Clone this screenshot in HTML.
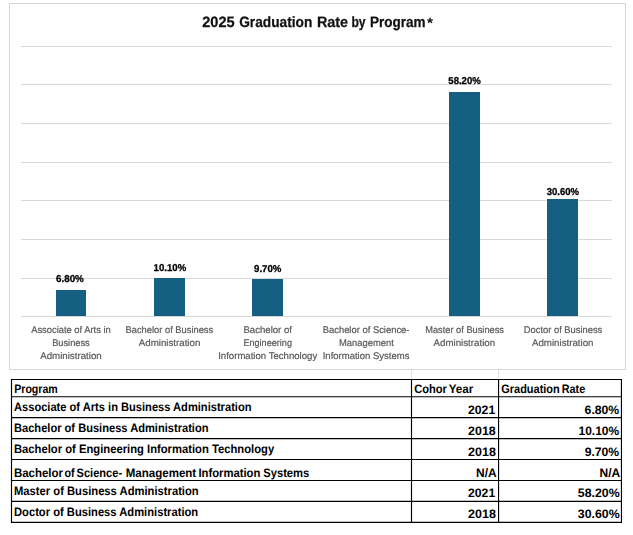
<!DOCTYPE html>
<html><head><meta charset="utf-8"><title>2025 Graduation Rate by Program</title>
<style>html,body{margin:0;padding:0;background:#fff;}body{width:633px;height:535px;overflow:hidden;font-family:"Liberation Sans",sans-serif;}svg{display:block;}text{font-family:"Liberation Sans",sans-serif;text-rendering:geometricPrecision;}</style>
</head><body>
<svg width="633" height="535" viewBox="0 0 633 535">
<rect x="0" y="0" width="633" height="535" fill="#ffffff"/>
<line x1="411.5" y1="370" x2="411.5" y2="379" stroke="#e1e1e1" stroke-width="1"/>
<line x1="498.5" y1="370" x2="498.5" y2="379" stroke="#e1e1e1" stroke-width="1"/>
<rect x="9.5" y="3.5" width="616" height="366" fill="#ffffff" stroke="#d6d6d6" stroke-width="1"/>
<rect x="21" y="46" width="591" height="1" fill="#d9d9d9"/>
<rect x="21" y="84" width="591" height="1" fill="#d9d9d9"/>
<rect x="21" y="123" width="591" height="1" fill="#d9d9d9"/>
<rect x="21" y="162" width="591" height="1" fill="#d9d9d9"/>
<rect x="21" y="200" width="591" height="1" fill="#d9d9d9"/>
<rect x="21" y="239" width="591" height="1" fill="#d9d9d9"/>
<rect x="21" y="278" width="591" height="1" fill="#d9d9d9"/>
<rect x="21" y="316" width="591" height="1" fill="#d9d9d9"/>
<rect x="56" y="290" width="30" height="26" fill="#156082"/>
<rect x="154" y="278" width="31" height="38" fill="#156082"/>
<rect x="252" y="279" width="31" height="37" fill="#156082"/>
<rect x="449" y="92" width="31" height="224" fill="#156082"/>
<rect x="547" y="199" width="31" height="117" fill="#156082"/>
<g style="will-change:transform">
<text x="202.2" y="26.9" font-size="15" font-weight="bold" fill="#111" text-anchor="start" textLength="32.4" lengthAdjust="spacingAndGlyphs" stroke="#111" stroke-width="0.25">2025</text>
<text x="239.2" y="26.9" font-size="15" font-weight="bold" fill="#111" text-anchor="start" textLength="73.1" lengthAdjust="spacingAndGlyphs" stroke="#111" stroke-width="0.25">Graduation</text>
<text x="316.9" y="26.9" font-size="15" font-weight="bold" fill="#111" text-anchor="start" textLength="31.2" lengthAdjust="spacingAndGlyphs" stroke="#111" stroke-width="0.25">Rate</text>
<text x="351.4" y="26.9" font-size="15" font-weight="bold" fill="#111" text-anchor="start" textLength="14.2" lengthAdjust="spacingAndGlyphs" stroke="#111" stroke-width="0.25">by</text>
<text x="369.9" y="26.9" font-size="15" font-weight="bold" fill="#111" text-anchor="start" textLength="55.6" lengthAdjust="spacingAndGlyphs" stroke="#111" stroke-width="0.25">Program</text>
<text x="427.1" y="27.5" font-size="15" font-weight="bold" fill="#111" text-anchor="start" textLength="6.0" lengthAdjust="spacingAndGlyphs">*</text>
<text x="56.0" y="282" font-size="10.0" font-weight="bold" fill="#000" text-anchor="start" textLength="27.8" lengthAdjust="spacingAndGlyphs" stroke="#000" stroke-width="0.3">6.80%</text>
<text x="153.6" y="271" font-size="10.0" font-weight="bold" fill="#000" text-anchor="start" textLength="32.6" lengthAdjust="spacingAndGlyphs" stroke="#000" stroke-width="0.3">10.10%</text>
<text x="254.1" y="272" font-size="10.0" font-weight="bold" fill="#000" text-anchor="start" textLength="27.3" lengthAdjust="spacingAndGlyphs" stroke="#000" stroke-width="0.3">9.70%</text>
<text x="448.3" y="84" font-size="10.0" font-weight="bold" fill="#000" text-anchor="start" textLength="32.5" lengthAdjust="spacingAndGlyphs" stroke="#000" stroke-width="0.3">58.20%</text>
<text x="546.7" y="195" font-size="10.0" font-weight="bold" fill="#000" text-anchor="start" textLength="32.4" lengthAdjust="spacingAndGlyphs" stroke="#000" stroke-width="0.3">30.60%</text>
<text x="31.2" y="333.2" font-size="9.7" font-weight="normal" fill="#595959" text-anchor="start" textLength="79.5" lengthAdjust="spacingAndGlyphs" stroke="#595959" stroke-width="0.2">Associate of Arts in</text>
<text x="52.2" y="345.9" font-size="9.7" font-weight="normal" fill="#595959" text-anchor="start" textLength="37.5" lengthAdjust="spacingAndGlyphs" stroke="#595959" stroke-width="0.2">Business</text>
<text x="40.2" y="358.7" font-size="9.7" font-weight="normal" fill="#595959" text-anchor="start" textLength="61.5" lengthAdjust="spacingAndGlyphs" stroke="#595959" stroke-width="0.2">Administration</text>
<text x="125.5" y="333.2" font-size="9.7" font-weight="normal" fill="#595959" text-anchor="start" textLength="87.7" lengthAdjust="spacingAndGlyphs" stroke="#595959" stroke-width="0.2">Bachelor of Business</text>
<text x="138.8" y="345.9" font-size="9.7" font-weight="normal" fill="#595959" text-anchor="start" textLength="61.5" lengthAdjust="spacingAndGlyphs" stroke="#595959" stroke-width="0.2">Administration</text>
<text x="243.4" y="333.2" font-size="9.7" font-weight="normal" fill="#595959" text-anchor="start" textLength="48.6" lengthAdjust="spacingAndGlyphs" stroke="#595959" stroke-width="0.2">Bachelor of</text>
<text x="243.4" y="345.9" font-size="9.7" font-weight="normal" fill="#595959" text-anchor="start" textLength="48.6" lengthAdjust="spacingAndGlyphs" stroke="#595959" stroke-width="0.2">Engineering</text>
<text x="218.2" y="358.7" font-size="9.7" font-weight="normal" fill="#595959" text-anchor="start" textLength="99.0" lengthAdjust="spacingAndGlyphs" stroke="#595959" stroke-width="0.2">Information Technology</text>
<text x="322.7" y="333.2" font-size="9.7" font-weight="normal" fill="#595959" text-anchor="start" textLength="86.8" lengthAdjust="spacingAndGlyphs" stroke="#595959" stroke-width="0.2">Bachelor of Science-</text>
<text x="339.0" y="345.9" font-size="9.7" font-weight="normal" fill="#595959" text-anchor="start" textLength="54.8" lengthAdjust="spacingAndGlyphs" stroke="#595959" stroke-width="0.2">Management</text>
<text x="322.7" y="358.7" font-size="9.7" font-weight="normal" fill="#595959" text-anchor="start" textLength="86.8" lengthAdjust="spacingAndGlyphs" stroke="#595959" stroke-width="0.2">Information Systems</text>
<text x="425.2" y="333.2" font-size="9.7" font-weight="normal" fill="#595959" text-anchor="start" textLength="78.8" lengthAdjust="spacingAndGlyphs" stroke="#595959" stroke-width="0.2">Master of Business</text>
<text x="433.6" y="345.9" font-size="9.7" font-weight="normal" fill="#595959" text-anchor="start" textLength="61.5" lengthAdjust="spacingAndGlyphs" stroke="#595959" stroke-width="0.2">Administration</text>
<text x="523.8" y="333.2" font-size="9.7" font-weight="normal" fill="#595959" text-anchor="start" textLength="78.5" lengthAdjust="spacingAndGlyphs" stroke="#595959" stroke-width="0.2">Doctor of Business</text>
<text x="532.0" y="345.9" font-size="9.7" font-weight="normal" fill="#595959" text-anchor="start" textLength="61.5" lengthAdjust="spacingAndGlyphs" stroke="#595959" stroke-width="0.2">Administration</text>
</g>
<line x1="11" y1="379.5" x2="622" y2="379.5" stroke="#000" stroke-width="1.15"/>
<line x1="11" y1="396.75" x2="622" y2="396.75" stroke="#000" stroke-width="1.15"/>
<line x1="11" y1="417.6" x2="622" y2="417.6" stroke="#000" stroke-width="1.15"/>
<line x1="11" y1="438.6" x2="622" y2="438.6" stroke="#000" stroke-width="1.15"/>
<line x1="11" y1="459.5" x2="622" y2="459.5" stroke="#000" stroke-width="1.15"/>
<line x1="11" y1="480.45" x2="622" y2="480.45" stroke="#000" stroke-width="1.15"/>
<line x1="11" y1="501.4" x2="622" y2="501.4" stroke="#000" stroke-width="1.15"/>
<line x1="11" y1="522.3" x2="622" y2="522.3" stroke="#000" stroke-width="1.15"/>
<line x1="11.5" y1="379" x2="11.5" y2="522.9" stroke="#000" stroke-width="1.15"/>
<line x1="411.5" y1="379" x2="411.5" y2="522.9" stroke="#000" stroke-width="1.15"/>
<line x1="498.55" y1="379" x2="498.55" y2="522.9" stroke="#000" stroke-width="1.15"/>
<line x1="621.4499999999999" y1="379" x2="621.4499999999999" y2="522.9" stroke="#000" stroke-width="1.15"/>
<text x="14.2" y="392.5" font-size="12.3" font-weight="bold" fill="#000" text-anchor="start" textLength="43.6" lengthAdjust="spacingAndGlyphs">Program</text>
<text x="414.2" y="392.7" font-size="12.3" font-weight="bold" fill="#000" text-anchor="start" textLength="32.7" lengthAdjust="spacingAndGlyphs">Cohor</text>
<text x="448.7" y="392.7" font-size="12.3" font-weight="bold" fill="#000" text-anchor="start" textLength="24.6" lengthAdjust="spacingAndGlyphs">Year</text>
<text x="501.3" y="392.6" font-size="12.3" font-weight="bold" fill="#000" text-anchor="start" textLength="58.4" lengthAdjust="spacingAndGlyphs">Graduation</text>
<text x="561.8" y="392.6" font-size="12.3" font-weight="bold" fill="#000" text-anchor="start" textLength="23.4" lengthAdjust="spacingAndGlyphs">Rate</text>
<text x="14" y="410.9" font-size="12.2" font-weight="bold" fill="#000" text-anchor="start" textLength="237.5" lengthAdjust="spacingAndGlyphs">Associate of Arts in Business Administration</text>
<text x="14" y="431.5" font-size="12.2" font-weight="bold" fill="#000" text-anchor="start" textLength="194.5" lengthAdjust="spacingAndGlyphs">Bachelor of Business Administration</text>
<text x="14" y="452.8" font-size="12.2" font-weight="bold" fill="#000" text-anchor="start" textLength="260.2" lengthAdjust="spacingAndGlyphs">Bachelor of Engineering Information Technology</text>
<text x="13.9" y="476.7" font-size="12.3" font-weight="bold" fill="#000" text-anchor="start" textLength="49.1" lengthAdjust="spacingAndGlyphs">Bachelor</text>
<text x="64.5" y="476.7" font-size="12.3" font-weight="bold" fill="#000" text-anchor="start" textLength="10.1" lengthAdjust="spacingAndGlyphs">of</text>
<text x="76.6" y="476.7" font-size="12.3" font-weight="bold" fill="#000" text-anchor="start" textLength="45.5" lengthAdjust="spacingAndGlyphs">Science-</text>
<text x="125.7" y="476.7" font-size="12.3" font-weight="bold" fill="#000" text-anchor="start" textLength="70.5" lengthAdjust="spacingAndGlyphs">Management</text>
<text x="198.4" y="476.7" font-size="12.3" font-weight="bold" fill="#000" text-anchor="start" textLength="62.0" lengthAdjust="spacingAndGlyphs">Information</text>
<text x="263.2" y="476.7" font-size="12.3" font-weight="bold" fill="#000" text-anchor="start" textLength="46.1" lengthAdjust="spacingAndGlyphs">Systems</text>
<text x="14" y="495" font-size="12.2" font-weight="bold" fill="#000" text-anchor="start" textLength="184.7" lengthAdjust="spacingAndGlyphs">Master of Business Administration</text>
<text x="14" y="515.8" font-size="12.2" font-weight="bold" fill="#000" text-anchor="start" textLength="184.2" lengthAdjust="spacingAndGlyphs">Doctor of Business Administration</text>
<text x="468.0" y="413.8" font-size="12.2" font-weight="bold" fill="#000" text-anchor="start" textLength="27.2" lengthAdjust="spacingAndGlyphs">2021</text>
<text x="468.1" y="434.5" font-size="12.2" font-weight="bold" fill="#000" text-anchor="start" textLength="27.6" lengthAdjust="spacingAndGlyphs">2018</text>
<text x="468.1" y="455.5" font-size="12.2" font-weight="bold" fill="#000" text-anchor="start" textLength="27.8" lengthAdjust="spacingAndGlyphs">2018</text>
<text x="476.0" y="477" font-size="12.3" font-weight="bold" fill="#000" text-anchor="start" textLength="20.6" lengthAdjust="spacingAndGlyphs">N/A</text>
<text x="468.0" y="496.8" font-size="12.2" font-weight="bold" fill="#000" text-anchor="start" textLength="27.2" lengthAdjust="spacingAndGlyphs">2021</text>
<text x="468.1" y="517.8" font-size="12.2" font-weight="bold" fill="#000" text-anchor="start" textLength="27.8" lengthAdjust="spacingAndGlyphs">2018</text>
<text x="584.6" y="413.8" font-size="12.2" font-weight="bold" fill="#000" text-anchor="start" textLength="34.6" lengthAdjust="spacingAndGlyphs">6.80%</text>
<text x="578.5" y="434.5" font-size="12.2" font-weight="bold" fill="#000" text-anchor="start" textLength="40.7" lengthAdjust="spacingAndGlyphs">10.10%</text>
<text x="584.7" y="455.5" font-size="12.2" font-weight="bold" fill="#000" text-anchor="start" textLength="34.5" lengthAdjust="spacingAndGlyphs">9.70%</text>
<text x="599.6" y="477" font-size="12.3" font-weight="bold" fill="#000" text-anchor="start" textLength="20.7" lengthAdjust="spacingAndGlyphs">N/A</text>
<text x="577.8000000000001" y="496.8" font-size="12.2" font-weight="bold" fill="#000" text-anchor="start" textLength="41.8" lengthAdjust="spacingAndGlyphs">58.20%</text>
<text x="577.8000000000001" y="517.8" font-size="12.2" font-weight="bold" fill="#000" text-anchor="start" textLength="41.8" lengthAdjust="spacingAndGlyphs">30.60%</text>
</svg>
</body></html>
